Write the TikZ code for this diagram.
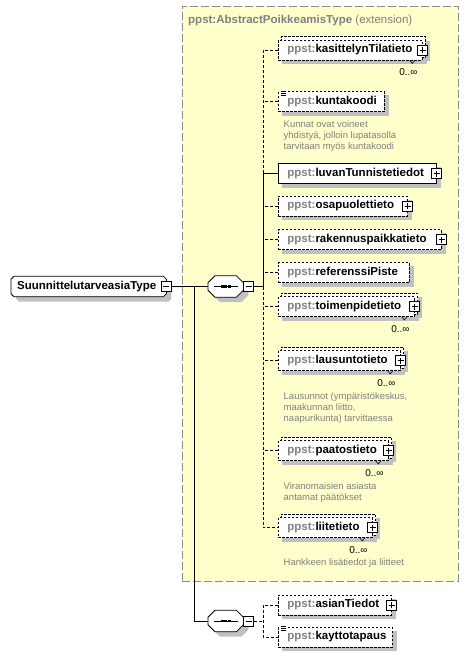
\documentclass[tikz,border=0pt]{standalone}
\usepackage{fontspec}
\setmainfont{Liberation Sans}
\usetikzlibrary{calc}
\definecolor{ybg}{RGB}{255,255,204}
\definecolor{ybd}{RGB}{140,140,140}
\definecolor{pfxc}{RGB}{128,128,128}
\definecolor{docc}{RGB}{128,128,128}
\definecolor{shc}{RGB}{192,192,192}
\pgfdeclarelayer{ylayer}
\pgfdeclarelayer{shlayer}
\pgfdeclarelayer{bklayer}
\pgfsetlayers{ylayer,shlayer,bklayer,main}
\newcommand\pfx{{\color{pfxc}ppst:}}
\newcommand\efont{\fontsize{11.5}{13}\selectfont\bfseries}
\newcommand\dfont{\fontsize{9.5}{10.7}\selectfont}
\newcommand\cfont{\fontsize{10}{12}\selectfont}
\tikzset{
 boxl/.style={line width=0.8pt, draw=black},
 elem/.style={boxl, fill=white, minimum height=20pt, inner xsep=0pt, inner ysep=0pt, align=left, font=\efont, anchor=west},
 opt/.style={dash pattern=on 2.5pt off 1.5pt},
 req/.style={solid},
 conn/.style={line width=0.9pt, draw=black},
 cdash/.style={dash pattern=on 3pt off 2pt},
 pmbox/.style={draw, solid, line width=0.8pt, fill=white, minimum size=10pt, inner sep=0pt},
 pmplus/.style={pmbox, path picture={\draw[line width=0.8pt] ([xshift=-3pt]path picture bounding box.center) -- ([xshift=3pt]path picture bounding box.center) ([yshift=-3pt]path picture bounding box.center) -- ([yshift=3pt]path picture bounding box.center);}},
 pmminus/.style={pmbox, path picture={\draw[line width=0.8pt] ([xshift=-3pt]path picture bounding box.center) -- ([xshift=3pt]path picture bounding box.center);}},
 card/.style={font=\cfont, inner sep=0pt, anchor=east},
 doc/.style={font=\dfont, text=docc, inner sep=0pt, anchor=north west, align=left},
}
% element box: name, front right x, centre y, style, text
\newcommand\mkel[5]{%
  \pgfmathsetmacro\elw{#2-278}%
  \node[elem,#4,text width=\elw pt] (#1) at (278,#3) {\noindent\hspace*{9pt}\pfx#5};%
  \begin{pgfonlayer}{shlayer}\fill[shc] ($(#1.south west)+(4,4)$) rectangle ($(#1.north east)+(4,4)$);\end{pgfonlayer}%
}
% repeated element: back box, notch, cardinality
\newcommand\mkmulti[2]{%
  \begin{pgfonlayer}{shlayer}\fill[shc] ($(#1.south west)+(7,1)$) rectangle ($(#1.north east)+(7,1)$);\end{pgfonlayer}%
  \begin{pgfonlayer}{bklayer}\draw[boxl,#2,fill=white] ($(#1.south west)+(3,-3)$) rectangle ($(#1.north east)+(3,-3)$);\end{pgfonlayer}%
  \draw[line width=0.6pt] ($(#1.south east)+(-13,0)$) -- ++(2.5,3) -- ++(2.5,-3);%
  \node[card] (#1-card) at ($(#1.south east)+(-5,12)$) {0..∞};%
}
\newcommand\mkplus[1]{\node[pmplus] (#1-pm) at (#1.east) {};}
\newcommand\mksimple[1]{%
  \fill[white] ($(#1.north west)+(2,-1.5)$) rectangle ($(#1.north west)+(9,5)$);%
  \draw[line width=0.7pt] ($(#1.north west)+(3,0)$) -- ++(5,0) ($(#1.north west)+(3,2)$) -- ++(5,0) ($(#1.north west)+(3,4)$) -- ++(5,0);%
}
% chamfered outline: options, node, cx, cy, dx, dy
\newcommand\chamdraw[6]{%
 \path[#1] ($(#2.north west)+(#3+#5,#6)$) -- ($(#2.north east)+(-#3+#5,#6)$) -- ($(#2.north east)+(#5,#4+#6)$) -- ($(#2.south east)+(#5,-#4+#6)$) -- ($(#2.south east)+(-#3+#5,#6)$) -- ($(#2.south west)+(#3+#5,#6)$) -- ($(#2.south west)+(#5,-#4+#6)$) -- ($(#2.north west)+(#5,#4+#6)$) -- cycle;%
}
\begin{document}
\begin{tikzpicture}[x=1pt,y=-1pt]
\useasboundingbox (0,0) rectangle (469,657);
% extension area
\begin{pgfonlayer}{ylayer}
\node[draw=ybd, line width=0.9pt, dash pattern=on 8pt off 3pt, fill=ybg, minimum width=276pt, minimum height=575pt, inner sep=0pt, anchor=north west] (ext) at (182,6) {};
\end{pgfonlayer}
\node[anchor=base west, inner sep=0pt, font=\fontsize{11.5}{13}\selectfont, text=pfxc] (ext-title) at (188,23) {\textbf{ppst:AbstractPoikkeamisType} (extension)};

% main type
\node[font=\efont, text width=155pt, align=left, inner xsep=0pt, inner ysep=0pt, minimum height=20pt, anchor=west] (type) at (11,286.5) {\noindent\hspace*{6pt}SuunnittelutarveasiaType};
\begin{pgfonlayer}{bklayer}\chamdraw{boxl,fill=white}{type}{3}{3}{0}{0}\end{pgfonlayer}
\begin{pgfonlayer}{shlayer}\chamdraw{fill=shc}{type}{3}{3}{5}{5}\end{pgfonlayer}
\node[pmminus] (type-m) at (type.east) {};

% sequences
\foreach \s/\y in {seq1/286.5,seq2/621} {
 \node[minimum width=35pt, minimum height=21pt, inner sep=0pt, anchor=west] (\s) at (208,\y) {};
 \begin{pgfonlayer}{bklayer}\chamdraw{boxl,fill=white}{\s}{7}{7}{0}{0}\end{pgfonlayer}
 \begin{pgfonlayer}{shlayer}\chamdraw{fill=shc}{\s}{7}{7}{5}{5}\end{pgfonlayer}
 \draw[line width=0.8pt] ($(\s.center)+(-12,0)$) -- ($(\s.center)+(12,0)$);
 \foreach \dx in {-3.5,0,3.5} \fill ($(\s.center)+(\dx-1.3,-1.3)$) rectangle ++(2.6,2.6);
 \node[pmminus,anchor=west] (\s-m) at (\s.east) {};
}

% elements
\mkel{kas}{422}{50}{opt}{kasittelynTilatieto}
\mkmulti{kas}{opt}\mkplus{kas}
\mkel{kunta}{384}{101.5}{opt}{kuntakoodi}
\mksimple{kunta}
\mkel{luvan}{436}{173.5}{req}{luvanTunnistetiedot}
\mkplus{luvan}
\mkel{osap}{407}{206}{opt}{osapuolettieto}
\mkplus{osap}
\mkel{rak}{441}{239.5}{opt}{rakennuspaikkatieto}
\mkplus{rak}
\mkel{ref}{409}{272.5}{opt}{referenssiPiste}
\mkel{toim}{414}{306.5}{opt}{toimenpidetieto}
\mkmulti{toim}{opt}\mkplus{toim}
\mkel{laus}{400}{360.5}{opt}{lausuntotieto}
\mkmulti{laus}{opt}\mkplus{laus}
\mkel{paat}{388}{450.5}{opt}{paatostieto}
\mkmulti{paat}{opt}\mkplus{paat}
\mkel{liite}{372}{527.5}{opt}{liitetieto}
\mkmulti{liite}{opt}\mkplus{liite}
\mkel{asian}{391}{605}{opt}{asianTiedot}
\mkplus{asian}
\mkel{kaytto}{392}{637}{opt}{kayttotapaus}
\mksimple{kaytto}

% documentation
\node[doc] (kunta-doc) at (283.5,120.7) {Kunnat ovat voineet\\yhdistyä, jolloin lupatasolla\\tarvitaan myös kuntakoodi};
\node[doc] (laus-doc) at (283.5,392.8) {Lausunnot (ympäristökeskus,\\maakunnan liitto,\\naapurikunta) tarvittaessa};
\node[doc] (paat-doc) at (283.5,482.7) {Viranomaisien asiasta\\antamat päätökset};
\node[doc] (liite-doc) at (283.5,558.8) {Hankkeen lisätiedot ja liitteet};

% connectors
\coordinate (j1) at (194,286.5);
\coordinate (bus1) at (263,286.5);
\coordinate (bus2) at (263,621);
\draw[conn] (type-m.east) -- (seq1.west);
\draw[conn] (j1) |- (seq2.west);
\draw[conn] (seq1-m.east) -- (bus1) -- (luvan.west -| bus1) -- (luvan.west);
\draw[conn,cdash] (kas.west) -- (kas.west -| bus1) -- (luvan.west -| bus1);
\draw[conn,cdash] (bus1) -- (liite.west -| bus1) -- (liite.west);
\foreach \n in {kunta,osap,rak,ref,toim,laus,paat}
  \draw[conn,cdash] (\n.west) -- (\n.west -| bus1);
\draw[conn,cdash] (seq2-m.east) -- (bus2);
\draw[conn,cdash] (asian.west) -- (asian.west -| bus2) -- (kaytto.west -| bus2) -- (kaytto.west);
\end{tikzpicture}
\end{document}
